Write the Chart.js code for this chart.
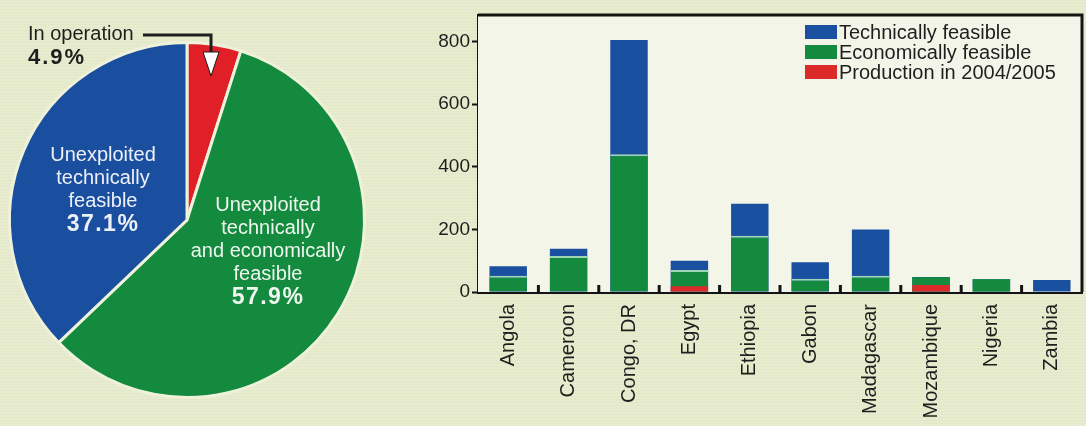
<!DOCTYPE html>
<html>
<head>
<meta charset="utf-8">
<script src="https://cdn.jsdelivr.net/npm/chart.js@4.4.1/dist/chart.umd.min.js"></script>
<style>
  html, body { margin: 0; padding: 0; }
  body {
    width: 1086px; height: 426px; overflow: hidden; position: relative;
    background: #e8ecce repeating-linear-gradient(0deg, rgba(255,255,255,0) 0 2px, rgba(120,130,80,0.04) 2px 3px);
    font-family: "Liberation Sans", Arial, sans-serif;
  }
  #pieBox { position: absolute; left: 0; top: 0; width: 376px; height: 426px; }
  #barBox { position: absolute; left: 400px; top: 0; width: 686px; height: 426px; }
  .lbl { position: absolute; text-align: center; font-size: 20px; line-height: 23px; color: #eef0f8; white-space: nowrap; }
  .pct { font-weight: bold; font-size: 23px; letter-spacing: 1.5px; }
  #legend { position: absolute; left: 805px; top: 22px; font-size: 20px; color: #1e1e1e; }
  #legend div { height: 20px; line-height: 20px; display: flex; align-items: center; }
  #legend span.sw { display: inline-block; width: 32px; height: 14px; margin-right: 2px; }
</style>
</head>
<body>
<div id="pieBox"><canvas id="pieChart"></canvas></div>
<div id="barBox"><canvas id="barChart"></canvas></div>

<div class="lbl" style="left:28px; top:22px; color:#1e1e1e; text-align:left; font-size:20px;">In operation<br><span class="pct" style="font-size:22px; letter-spacing:2px;">4.9%</span></div>
<div class="lbl" style="left:3px; top:143px; width:200px;">Unexploited<br>technically<br>feasible<br><span class="pct">37.1%</span></div>
<div class="lbl" style="left:168px; top:193px; width:200px; color:#eef6ee;">Unexploited<br>technically<br>and economically<br>feasible<br><span class="pct">57.9%</span></div>
<div id="legend"></div>

<script>
// Pie : part du potentiel hydro
const pieLabels = ['In operation', 'Unexploited technically and economically feasible', 'Unexploited technically feasible'];
const pieValues = [4.9, 57.9, 37.1];
const pieColors = ['#e01f27', '#138a3e', '#1a4fa0'];

// Barres : potentiel par pays (TWh/an)
const countries = ['Angola', 'Cameroon', 'Congo, DR', 'Egypt', 'Ethiopia', 'Gabon', 'Madagascar', 'Mozambique', 'Nigeria', 'Zambia'];
const technicallyFeasible = [82, 138, 805, 100, 282, 95, 200, 48, 41, 38];
const economicallyFeasible = [52, 115, 440, 70, 180, 42, 52, 47, 41, 0];
const production = [0, 0, 0, 18, 0, 0, 0, 22, 0, 0];
const yTicks = [0, 200, 400, 600, 800];

const colors = {
    blue: '#1a50a0',
    green: '#138a3e',
    red: '#dc2a2a',
    ink: '#141414'
};

// fleche "In operation"
const leaderPlugin = {
    id: 'leader',
    afterDraw(chart) {
        const ctx = chart.ctx;
        ctx.save();
        ctx.strokeStyle = '#1e1e1e';
        ctx.lineWidth = 3;
        ctx.beginPath();
        ctx.moveTo(143, 35);
        ctx.lineTo(211, 35);
        ctx.lineTo(211, 54);
        ctx.stroke();
        ctx.fillStyle = '#ffffff';
        ctx.lineWidth = 1;
        ctx.beginPath();
        ctx.moveTo(203, 52);
        ctx.lineTo(219, 52);
        ctx.lineTo(211, 76);
        ctx.closePath();
        ctx.fill();
        ctx.stroke();
        ctx.restore();
    }
};

new Chart(document.getElementById('pieChart'), {
    type: 'pie',
    data: {
        labels: pieLabels,
        datasets: [{
            data: pieValues,
            backgroundColor: pieColors,
            borderColor: '#eef2da',
            borderWidth: 3
        }]
    },
    options: {
        responsive: true,
        maintainAspectRatio: false,
        animation: false,
        layout: { padding: { left: 8, right: 10, top: 41, bottom: 27 } },
        plugins: { legend: { display: false }, tooltip: { enabled: false } }
    },
    plugins: [leaderPlugin]
});

// fond clair, cadre et petits tirets entre categories
const framePlugin = {
    id: 'frame',
    beforeDatasetsDraw(chart) {
        const { ctx, chartArea: a } = chart;
        ctx.save();
        ctx.fillStyle = '#f3f5e8';
        ctx.fillRect(a.left, a.top, a.right - a.left, a.bottom - a.top);
        ctx.restore();
    },
    afterDraw(chart) {
        const { ctx, chartArea: a } = chart;
        const x = chart.scales.x;
        ctx.save();
        ctx.strokeStyle = colors.ink;
        ctx.lineWidth = 3;
        ctx.beginPath();
        ctx.moveTo(a.left, a.top);
        ctx.lineTo(a.right, a.top);
        ctx.lineTo(a.right, a.bottom);
        ctx.stroke();
        ctx.beginPath();
        for (let i = 1; i < countries.length; i++) {
            const px = (x.getPixelForTick(i - 1) + x.getPixelForTick(i)) / 2;
            ctx.moveTo(px, a.bottom);
            ctx.lineTo(px, a.bottom - 7);
        }
        ctx.stroke();
        ctx.restore();
    }
};

const barChart = new Chart(document.getElementById('barChart'), {
    type: 'bar',
    data: {
        labels: countries,
        datasets: [{
            label: 'Technically feasible',
            data: technicallyFeasible,
            backgroundColor: colors.blue,
            order: 3
        }, {
            label: 'Economically feasible',
            data: economicallyFeasible,
            backgroundColor: colors.green,
            borderColor: '#9fd6b6',
            // liseré clair seulement sous une partie bleue
            borderWidth: c => technicallyFeasible[c.dataIndex] > economicallyFeasible[c.dataIndex] + 2
                ? { top: 2, left: 0, right: 0, bottom: 0 } : 0,
            order: 2
        }, {
            label: 'Production in 2004/2005',
            data: production,
            backgroundColor: colors.red,
            order: 1
        }]
    },
    options: {
        responsive: true,
        maintainAspectRatio: false,
        animation: false,
        layout: { padding: { left: 0, right: 4, top: 15, bottom: 0 } },
        datasets: { bar: { grouped: false, barPercentage: 0.62, categoryPercentage: 1 } },
        scales: {
            x: {
                grid: { display: false },
                border: { display: true, color: colors.ink, width: 3 },
                ticks: {
                    color: '#1e1e1e',
                    font: { family: 'Liberation Sans', size: 20 },
                    minRotation: 90,
                    maxRotation: 90,
                    autoSkip: false,
                    padding: 4
                },
                afterFit(scale) { scale.height = 134; }
            },
            y: {
                min: 0,
                max: 885,
                grid: { drawOnChartArea: false, drawTicks: true, tickLength: 6, tickWidth: 2, tickColor: colors.ink },
                border: { display: true, color: colors.ink, width: 3 },
                ticks: {
                    color: '#1e1e1e',
                    font: { family: 'Liberation Sans', size: 19 },
                    padding: 2,
                    includeBounds: false
                },
                afterBuildTicks(scale) { scale.ticks = yTicks.map(v => ({ value: v })); },
                afterFit(scale) { scale.width = 78; }
            }
        },
        plugins: { legend: { display: false }, tooltip: { enabled: false } }
    },
    plugins: [framePlugin]
});

// legende dans le cadre
const legendEl = document.getElementById('legend');
barChart.data.datasets.forEach(ds => {
    const row = document.createElement('div');
    row.innerHTML = '<span class="sw" style="background:' + ds.backgroundColor + '"></span>' + ds.label;
    legendEl.appendChild(row);
});
</script>
</body>
</html>
